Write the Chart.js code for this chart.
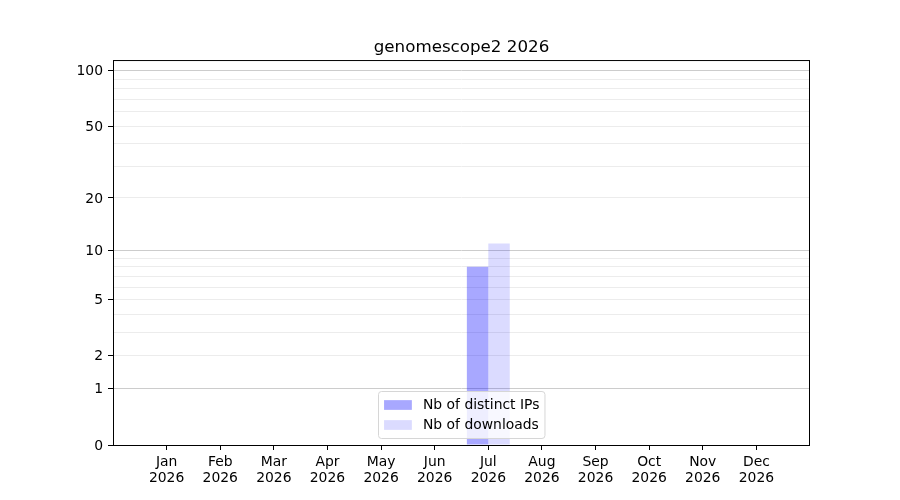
<!DOCTYPE html>
<html>
<head>
<meta charset="utf-8">
<title>genomescope2 2026</title>
<script src="https://cdn.jsdelivr.net/npm/chart.js@4.4.1/dist/chart.umd.min.js"></script>
<style>
    html, body { margin: 0; padding: 0; background: #fff; }
    #wrap { width: 900px; height: 500px; }
</style>
</head>
<body>
<div id="wrap"><canvas id="myChart"></canvas></div>
<script>
const months = ['Jan', 'Feb', 'Mar', 'Apr', 'May', 'Jun', 'Jul', 'Aug', 'Sep', 'Oct', 'Nov', 'Dec'];
const year = '2026';
const distinctIPs = [0, 0, 0, 0, 0, 0, 8, 0, 0, 0, 0, 0];
const downloads = [0, 0, 0, 0, 0, 0, 11, 0, 0, 0, 0, 0];
const yTickLabels = [0, 1, 2, 5, 10, 20, 50, 100];
const yMinorTicks = [3, 4, 6, 7, 8, 9, 30, 40, 60, 70, 80, 90];
const yMajorGrid = [1, 10, 100];
const yMax = 114;

const FONT = 'DejaVu Sans';
const FS = 13.9;

// scale log10(1 + v), like the reference axis
class Log1pScale extends Chart.LinearScale {
    buildTicks() {
        this.start = this.min;
        this.end = this.max;
        const vals = yTickLabels.concat(yMinorTicks).sort((a, b) => a - b);
        return vals.map(v => ({ value: v }));
    }
    getPixelForValue(value) {
        if (value === null || value === undefined || isNaN(value)) return NaN;
        const lo = Math.log10(1 + this.min);
        const hi = Math.log10(1 + this.max);
        return this.getPixelForDecimal((Math.log10(1 + value) - lo) / (hi - lo));
    }
    getValueForPixel(pixel) {
        const lo = Math.log10(1 + this.min);
        const hi = Math.log10(1 + this.max);
        return Math.pow(10, lo + this.getDecimalForPixel(pixel) * (hi - lo)) - 1;
    }
}
Log1pScale.id = 'log1p';
Chart.register(Log1pScale);

// one empty slot on each side, so months sit one step away from the frame
const xLabels = [''].concat(months.map(m => [m, year]), ['']);
const pad = arr => [null].concat(arr, [null]);

const framePlugin = {
    id: 'frame',
    afterDatasetsDraw(chart) {
        const { ctx, chartArea: a } = chart;
        ctx.save();
        ctx.strokeStyle = '#000';
        ctx.lineWidth = 1;
        ctx.strokeRect(a.left + 0.5, a.top + 0.5, a.width - 1, a.height);
        ctx.restore();
    }
};

const legendPlugin = {
    id: 'innerLegend',
    afterDraw(chart) {
        const { ctx, chartArea: a } = chart;
        const sets = chart.data.datasets;
        ctx.save();
        ctx.font = FS + 'px "' + FONT + '"';
        let textW = 0;
        sets.forEach(ds => { textW = Math.max(textW, ctx.measureText(ds.label).width); });
        const bpad = 0.4 * FS, handle = 2.0 * FS, tpad = 0.8 * FS;
        const w = 2 * bpad + handle + tpad + textW;
        const h = 47;
        const x = Math.round((a.left + a.right) / 2 - w / 2) + 0.5;
        const y = Math.round(a.bottom - 0.5 * FS - h) + 0.5;
        ctx.beginPath();
        ctx.roundRect(x, y, w, h, 3);
        ctx.fillStyle = 'rgba(255,255,255,0.8)';
        ctx.fill();
        ctx.strokeStyle = '#d6d6d6';
        ctx.lineWidth = 1;
        ctx.stroke();
        sets.forEach((ds, i) => {
            const cy = y + 13.5 + i * 20;
            ctx.fillStyle = ds.backgroundColor;
            ctx.fillRect(x + bpad, cy - 0.35 * FS, handle, 0.7 * FS);
            ctx.fillStyle = '#000';
            ctx.textBaseline = 'middle';
            ctx.textAlign = 'left';
            ctx.fillText(ds.label, x + bpad + handle + tpad, cy + 0.5);
        });
        ctx.restore();
    }
};

const ctx = document.getElementById('myChart').getContext('2d');
new Chart(ctx, {
    type: 'bar',
    data: {
        labels: xLabels,
        datasets: [{
            label: 'Nb of distinct IPs',
            data: pad(distinctIPs),
            backgroundColor: 'rgba(0, 0, 255, 0.34)',
            borderWidth: 0,
            categoryPercentage: 0.8,
            barPercentage: 1.0
        }, {
            label: 'Nb of downloads',
            data: pad(downloads),
            backgroundColor: 'rgba(0, 0, 255, 0.14)',
            borderWidth: 0,
            categoryPercentage: 0.8,
            barPercentage: 1.0
        }]
    },
    options: {
        responsive: true,
        maintainAspectRatio: false,
        animation: false,
        layout: { padding: { top: 38, right: 90, bottom: 0, left: 0 } },
        scales: {
            x: {
                type: 'category',
                offset: false,
                border: { display: false },
                grid: {
                    offset: false,
                    drawOnChartArea: false,
                    tickLength: 5,
                    tickColor: c => (c.index === 0 || c.index === xLabels.length - 1) ? 'rgba(0,0,0,0)' : '#000'
                },
                ticks: {
                    autoSkip: false,
                    maxRotation: 0,
                    minRotation: 0,
                    padding: 4,
                    color: '#000',
                    font: { family: FONT, size: FS, lineHeight: 1.15 }
                },
                afterFit: s => { s.height = 55; }
            },
            y: {
                type: 'log1p',
                min: 0,
                max: yMax,
                border: { display: false },
                grid: {
                    lineWidth: 1,
                    tickLength: 5,
                    color: c => {
                        const v = c.tick ? c.tick.value : null;
                        if (v === 0) return 'rgba(0,0,0,0)';
                        return yMajorGrid.includes(v) ? '#cccccc' : '#ececec';
                    },
                    tickColor: c => (c.tick && yTickLabels.includes(c.tick.value)) ? '#000' : 'rgba(0,0,0,0)'
                },
                ticks: {
                    autoSkip: false,
                    padding: 5,
                    labelOffset: 1,
                    color: '#000',
                    font: { family: FONT, size: FS },
                    callback: v => yTickLabels.includes(v) ? String(v) : ''
                },
                afterFit: s => { s.width = 113; }
            }
        },
        plugins: {
            legend: { display: false },
            tooltip: { enabled: false },
            title: {
                display: true,
                text: 'genomescope2 ' + year,
                fullSize: false,
                color: '#000',
                font: { family: FONT, size: 16.7, weight: 'normal', lineHeight: 1.2 },
                padding: { top: 0, bottom: 2 }
            }
        }
    },
    plugins: [framePlugin, legendPlugin]
});
</script>
</body>
</html>
